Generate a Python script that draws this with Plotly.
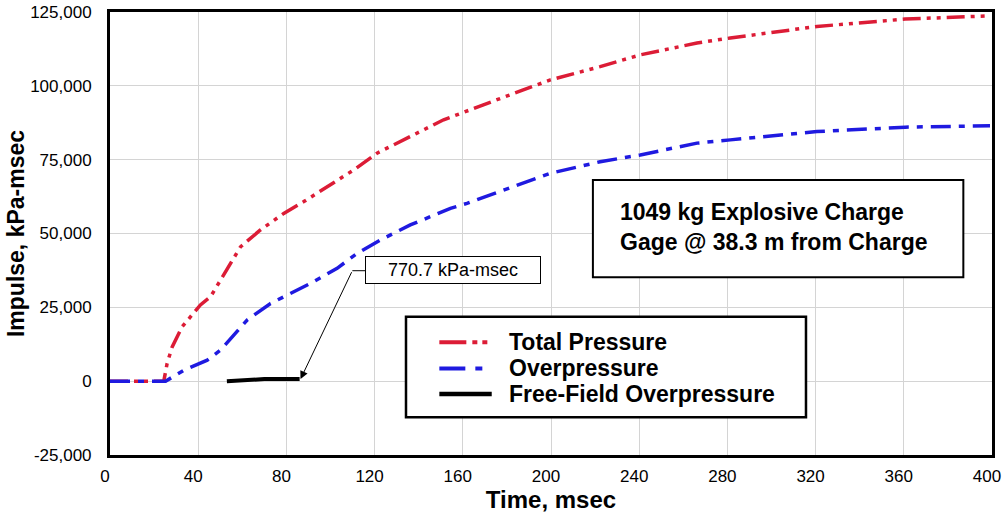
import plotly.graph_objects as go

# ---- data ----
total_t = [0, 24.4, 25.9, 28.2, 32.7, 41.0, 45.6, 50.1, 54.6, 59.2, 68.2, 78.8, 87.9, 98.5,
           110.5, 121.1, 131.7, 151.3, 175.5, 199.7, 222.3, 240.5, 266.2, 281.3, 320.6,
           360.6, 399.1]
total_i = [0, 0, 6000, 11600, 18400, 25800, 28600, 34200, 39900, 45500, 51200, 56800, 60800,
           65900, 71500, 77200, 81100, 88500, 95300, 102000, 106500, 110500, 114500, 116200,
           120100, 122600, 123700]

over_t = [0, 25.2, 33.5, 44.1, 50.1, 57.7, 62.2, 72.8, 81.8, 90.9, 103.0, 112.1, 122.6, 136.2,
          154.4, 161.9, 199.7, 222.3, 240.5, 266.2, 281.3, 320.6, 360.6, 399.1]
over_i = [0, 0, 3700, 7100, 10500, 16700, 20700, 26300, 29700, 33100, 38200, 43300, 47800,
          52900, 58500, 60200, 70400, 74300, 76600, 80600, 81700, 84500, 86000, 86500]

ff_t = [53, 56, 60, 65, 70, 78, 86]
ff_i = [0, 150, 400, 600, 700, 750, 770.7]

series_names = ["Total Pressure", "Overpressure", "Free-Field Overpressure"]

x_ticks = [0, 40, 80, 120, 160, 200, 240, 280, 320, 360, 400]
y_ticks = [-25000, 0, 25000, 50000, 75000, 100000, 125000]
y_tick_text = ["-25,000", "0", "25,000", "50,000", "75,000", "100,000", "125,000"]

RED = "#DC1C36"
BLUE = "#1F1AE0"
FONT = "Liberation Sans, Arial"

styles = [
    dict(color=RED, width=3.5, dash="18px,6px,4px,6px,4px,6px"),
    dict(color=BLUE, width=3.5, dash="20px,8px,6px,8px"),
    dict(color="black", width=4),
]
legend_dash = ["27px,6px,5px,5px,5px,30px", "26px,10px,7px,30px", "solid"]

fig = go.Figure()
for (xs, ys), name, st in zip([(total_t, total_i), (over_t, over_i), (ff_t, ff_i)],
                              series_names, styles):
    fig.add_trace(go.Scatter(x=xs, y=ys, mode="lines", name=name, line=st, showlegend=False))

# info box
fig.add_shape(type="rect", xref="x", yref="y", x0=219, x1=387, y0=35200, y1=68100,
              line=dict(color="black", width=2), fillcolor="white", layer="above")
fig.add_annotation(xref="x", yref="y", x=230.6, y=52150, xanchor="left", yanchor="middle",
                   align="left", showarrow=False,
                   text="1049 kg Explosive Charge<br>Gage @ 38.3 m from Charge",
                   font=dict(family=FONT, size=23, color="black", weight="bold"))

# callout
fig.add_shape(type="line", xref="x", yref="y", x0=109.9, y0=37400, x1=116.3, y1=37400,
              line=dict(color="black", width=1))
fig.add_annotation(xref="x", yref="y", axref="x", ayref="y", x=86.4, y=700, ax=109.9, ay=37400,
                   text="", showarrow=True, arrowhead=2, arrowsize=1.6, arrowwidth=1,
                   arrowcolor="black")
fig.add_annotation(xref="x", yref="y", x=155.7, y=37600, showarrow=False,
                   text="770.7 kPa-msec", width=170, height=22, borderpad=2,
                   bordercolor="black", borderwidth=1, bgcolor="white",
                   font=dict(family=FONT, size=18, color="black"))

# legend box (paper coordinates of the plot area)
fig.add_shape(type="rect", xref="paper", yref="paper", x0=0.3356, x1=0.7891,
              y0=0.0851, y1=0.3122, line=dict(color="black", width=2.5),
              fillcolor="white", layer="above")
row_y = [0.2544, 0.1953, 0.1377]
for name, st, dsh, yy in zip(series_names, styles, legend_dash, row_y):
    fig.add_shape(type="line", xref="paper", yref="paper", x0=0.3734, x1=0.4328, y0=yy, y1=yy,
                  line=dict(color=st["color"], width=st["width"] + 0.5, dash=dsh), layer="above")
    fig.add_annotation(xref="paper", yref="paper", x=0.4505, y=yy, xanchor="left",
                       yanchor="middle", showarrow=False, text=name,
                       font=dict(family=FONT, size=23, color="black", weight="bold"))

fig.update_layout(
    width=1007, height=515,
    margin=dict(l=110, r=15, t=12, b=60),
    paper_bgcolor="white", plot_bgcolor="white",
    font=dict(family=FONT, color="black"),
    showlegend=False,
)
fig.update_xaxes(range=[0, 400], tickvals=x_ticks, showgrid=True, gridcolor="#D4D4D4",
                 gridwidth=1, showline=True, mirror=True, linecolor="black", linewidth=3,
                 zeroline=False, ticks="", tickfont=dict(size=17), ticklabelstandoff=4,
                 ticklabelshift=-5, automargin=False,
                 title=dict(text="Time, msec", font=dict(size=24, weight="bold"), standoff=2))
fig.update_yaxes(range=[-25000, 125000], tickvals=y_ticks, ticktext=y_tick_text, showgrid=True,
                 gridcolor="#D4D4D4", gridwidth=1, showline=True, mirror=True,
                 linecolor="black", linewidth=3, zeroline=False, ticks="", automargin=False,
                 tickfont=dict(size=17), ticklabelstandoff=12,
                 title=dict(text="Impulse, kPa-msec", font=dict(size=23, weight="bold"), standoff=0))

fig.write_html("out.html")
